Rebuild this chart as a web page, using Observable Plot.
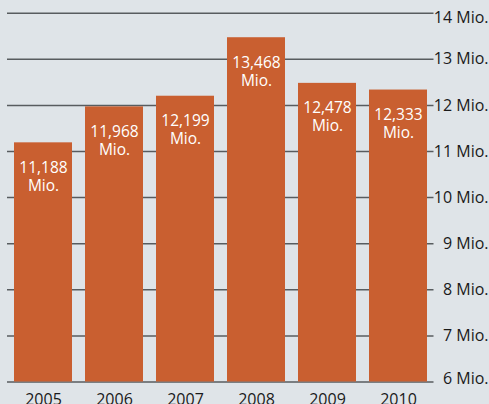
<!DOCTYPE html>
<html>
<head>
<meta charset="utf-8">
<script src="https://cdn.jsdelivr.net/npm/d3@7"></script>
<script src="https://cdn.jsdelivr.net/npm/@observablehq/plot@0.6"></script>
<style>
  html, body { margin: 0; padding: 0; background: #dfe4e8; }
  #chart svg { display: block; }
</style>
</head>
<body>
<div id="chart"></div>
<script>
const years = ["2005", "2006", "2007", "2008", "2009", "2010"];
const values = [11.188, 11.968, 12.199, 13.468, 12.478, 12.333];
const yTicks = [6, 7, 8, 9, 10, 11, 12, 13, 14];
const unit = "Mio.";

const data = years.map((y, i) => ({year: y, value: values[i]}));
const fmt = v => v.toFixed(3).replace(".", ",");

const font = "'Open Sans', 'Noto Sans', sans-serif";

const chart = Plot.plot({
  width: 489,
  height: 404,
  marginLeft: 7,
  marginRight: 55.5,
  marginTop: 12.7,
  marginBottom: 22.5,
  style: {background: "#dfe4e8", fontFamily: font, fontSize: "15px", color: "#1a1a1a"},
  x: {domain: years, paddingInner: 0.183, paddingOuter: 0.0915, label: null},
  y: {domain: [6, 14], label: null},
  marks: [
    Plot.ruleY(yTicks, {stroke: "#585c5f", strokeWidth: 1.5}),
    Plot.barY(data, {x: "year", y1: 6, y2: "value", fill: "#c95f30"}),
    Plot.text(data, {
      x: "year", y: "value",
      text: d => fmt(d.value) + "\n" + unit,
      lineAnchor: "top", dy: 17, lineHeight: 1.17,
      fill: "white", fontSize: 15.5
    }),
    Plot.axisX({tickSize: 0, tickPadding: 12, fontSize: 16, fill: "#1a1a1a"}),
    Plot.axisY(yTicks.filter(t => t > 6 && t < 14), {
      anchor: "right", tickSize: 0, tickPadding: 0, dx: 54.5,
      textAnchor: "end", tickFormat: d => d + " " + unit, fontSize: 16, fill: "#1a1a1a"
    }),
    Plot.axisY([14], {
      anchor: "right", tickSize: 0, tickPadding: 0, dx: 54.5, dy: 5,
      textAnchor: "end", tickFormat: d => d + " " + unit, fontSize: 16, fill: "#1a1a1a"
    }),
    Plot.axisY([6], {
      anchor: "right", tickSize: 0, tickPadding: 0, dx: 54.5, dy: -3,
      textAnchor: "end", tickFormat: d => d + " " + unit, fontSize: 16, fill: "#1a1a1a"
    })
  ]
});
document.getElementById("chart").appendChild(chart);
</script>
</body>
</html>
